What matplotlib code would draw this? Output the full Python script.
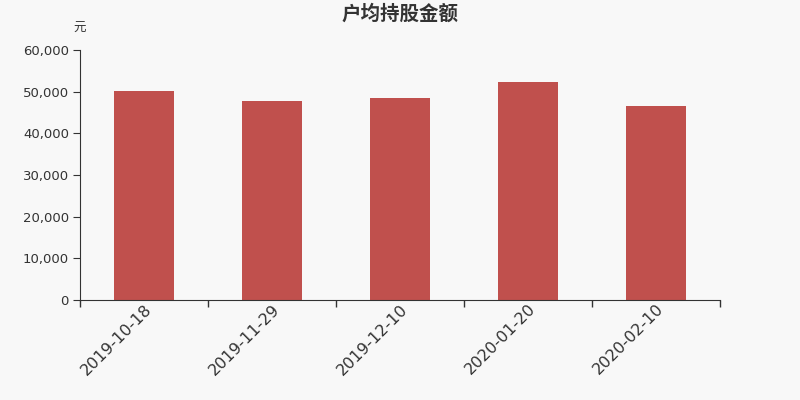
import matplotlib
matplotlib.use("Agg")
import matplotlib.pyplot as plt
from matplotlib.ticker import FuncFormatter, FixedLocator

plt.rcParams['font.family'] = ['DejaVu Sans', 'Noto Sans CJK SC']

categories = ["2019-10-18", "2019-11-29", "2019-12-10", "2020-01-20", "2020-02-10"]
values = [50050, 47800, 48480, 52300, 46450]
yticks = [0, 10000, 20000, 30000, 40000, 50000, 60000]

bg = "#f8f8f8"
fig = plt.figure(figsize=(8, 4), dpi=100, facecolor=bg)
ax = fig.add_axes([0.1, 0.25, 0.8, 0.625], facecolor=bg)

x = list(range(len(categories)))
ax.bar(x, values, width=0.47, color="#c0504d", zorder=2)

ax.set_xlim(-0.5, len(categories) - 0.5)
ax.set_ylim(0, 60000)
ax.set_yticks(yticks)
ax.yaxis.set_major_formatter(FuncFormatter(lambda v, p: f"{int(v):,}"))

ax.set_xticks(x)
ax.set_xticklabels(categories, rotation=45, ha="right", rotation_mode="anchor", fontsize=11.5, color="#333333")
ax.tick_params(axis="x", which="major", length=0, pad=1)
ax.xaxis.set_minor_locator(FixedLocator([i - 0.5 for i in range(len(categories) + 1)]))
ax.tick_params(axis="x", which="minor", length=5, color="#333333", width=1)
ax.tick_params(axis="y", length=5, color="#333333", labelsize=9.5, labelcolor="#333333", pad=3)

for s in ["top", "right"]:
    ax.spines[s].set_visible(False)
ax.spines["left"].set_color("#333333")
ax.spines["bottom"].set_color("#333333")

fig.text(0.5, 0.965, "户均持股金额", ha="center", va="center", fontsize=14, fontweight="bold", color="#333333")
fig.text(0.1, 0.928, "元", ha="center", va="center", fontsize=9, color="#333333")

fig.savefig("out.png", dpi=100, facecolor=bg)
